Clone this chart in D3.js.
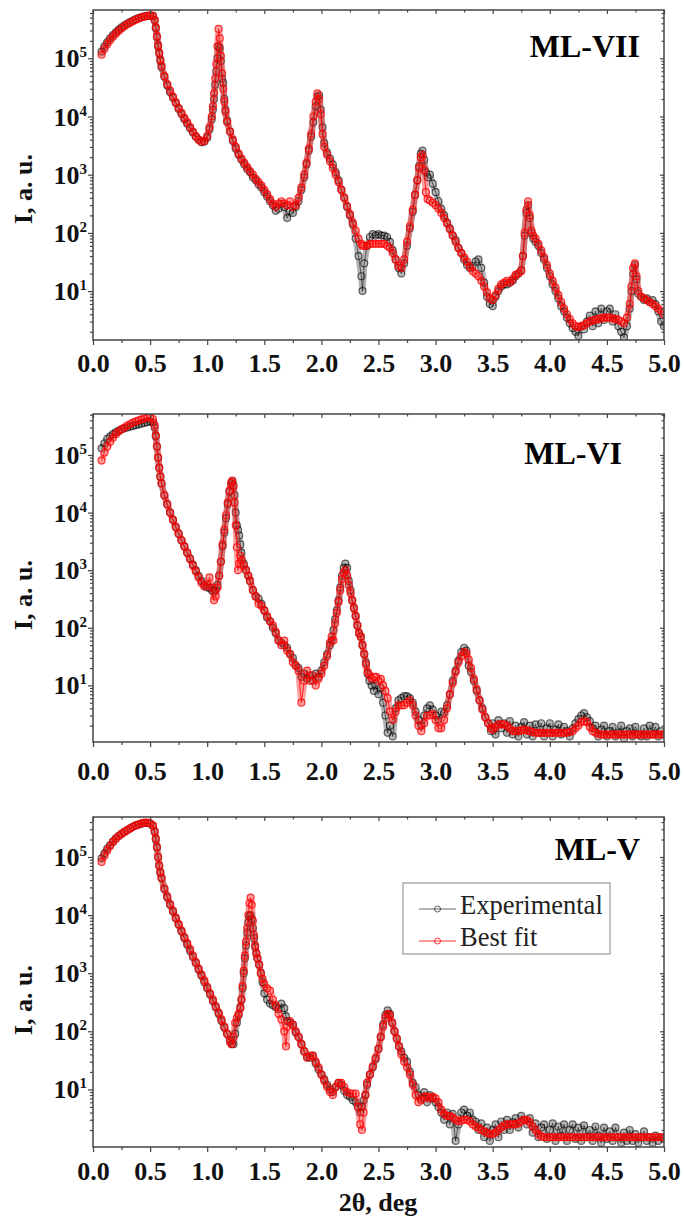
<!DOCTYPE html>
<html><head><meta charset="utf-8">
<script src="https://cdn.jsdelivr.net/npm/d3@7"></script>
<style>body{margin:0;background:#fff}svg{display:block}</style>
</head><body><svg id="c" width="684" height="1220"></svg>
<script>
// ---------- data ----------
const angleTickLabels = ["0.0","0.5","1.0","1.5","2.0","2.5","3.0","3.5","4.0","4.5","5.0"];
const angleTickValues = [0,0.5,1,1.5,2,2.5,3,3.5,4,4.5,5];
const angleMinorValues = [0.25,0.75,1.25,1.75,2.25,2.75,3.25,3.75,4.25,4.75];
const intensityTickExponents = [1,2,3,4,5];
const panelTitles = ["ML-VII","ML-VI","ML-V"];
const legendLabels = ["Experimental","Best fit"];
const axisTitleX = "2θ, deg";
const axisTitleY = "I, a. u.";

// rows: [2θ (deg), best fit, experimental]
const mlVII = [
[0.075,1.15e5,1.3e5],[0.1,1.45e5,1.6e5],[0.125,1.75e5,1.9e5],[0.15,2.05e5,2.2e5],[0.175,2.35e5,2.5e5],
[0.2,2.65e5,2.8e5],[0.225,2.95e5,3.1e5],[0.25,3.25e5,3.4e5],[0.275,3.55e5,3.7e5],[0.3,3.85e5,3.95e5],
[0.325,4.1e5,4.2e5],[0.35,4.35e5,4.45e5],[0.375,4.6e5,4.7e5],[0.4,4.85e5,4.9e5],[0.425,5.05e5,5.1e5],
[0.45,5.2e5,5.25e5],[0.475,5.35e5,5.35e5],[0.5,5.45e5,5.4e5],[0.525,5.4e5,5.3e5],[0.54,4.6e5,4.5e5],
[0.55,3.4e5,3.3e5],[0.56,2.4e5,2.3e5],[0.57,1.7e5,1.6e5],[0.58,1.25e5,1.2e5],[0.59,9.5e4,9e4],
[0.6,7.5e4,7e4],[0.625,5e4,4.8e4],[0.65,3.6e4,3.4e4],[0.675,2.8e4,2.6e4],[0.7,2.2e4,2.1e4],
[0.725,1.75e4,1.7e4],[0.75,1.4e4,1.35e4],[0.775,1.15e4,1.1e4],[0.8,9.5e3,9e3],[0.825,8e3,7.5e3],
[0.85,6.6e3,6.3e3],[0.875,5.5e3,5.3e3],[0.9,4.6e3,4.5e3],[0.925,4e3,4e3],[0.95,3.7e3,3.6e3],
[0.975,3.8e3,3.7e3],[1.0,4.6e3,4.3e3],[1.02,6.5e3,6e3],[1.04,1e4,9e3],[1.05,1.5e4,1.3e4],
[1.06,2.5e4,2e4],[1.07,4.5e4,3.5e4],[1.08,8e4,6e4],[1.09,1.6e5,1e5],[1.1,3.2e5,1.6e5],
[1.11,2.2e5,1.5e5],[1.12,1.1e5,9e4],[1.13,5.5e4,4.5e4],[1.14,3e4,3.8e4],[1.15,1.8e4,2e4],
[1.16,1.2e4,1.3e4],[1.175,8e3,8.5e3],[1.2,5.5e3,5.5e3],[1.225,4e3,3.8e3],[1.25,3e3,2.8e3],
[1.275,2.3e3,2.2e3],[1.3,1.9e3,1.8e3],[1.325,1.6e3,1.5e3],[1.35,1.35e3,1.25e3],[1.375,1.15e3,1.1e3],
[1.4,1e3,9e2],[1.425,8.5e2,8e2],[1.45,7.5e2,6.8e2],[1.475,6.5e2,6e2],[1.5,5.5e2,5e2],
[1.525,4.6e2,4.2e2],[1.55,3.8e2,3.5e2],[1.575,3.2e2,3e2],[1.6,2.8e2,2.4e2],[1.625,3.2e2,2.6e2],
[1.65,3.5e2,3.2e2],[1.675,3.2e2,2.8e2],[1.7,3e2,1.8e2],[1.725,3.5e2,2.4e2],[1.75,2.8e2,2.2e2],
[1.775,3e2,2.8e2],[1.8,4e2,3.5e2],[1.825,6e2,5.5e2],[1.85,1e3,9e2],[1.87,1.6e3,1.5e3],
[1.89,2.8e3,2.6e3],[1.91,5e3,4.5e3],[1.93,1e4,8e3],[1.95,1.8e4,1.5e4],[1.965,2.5e4,2.2e4],
[1.98,2e4,2.3e4],[1.995,1.1e4,1.3e4],[2.01,5e3,6.5e3],[2.025,3e3,3.5e3],[2.05,2.2e3,2.4e3],
[2.075,1.7e3,1.9e3],[2.1,1.3e3,1.5e3],[2.125,1e3,1.1e3],[2.15,7.5e2,8e2],[2.175,5.5e2,5.5e2],
[2.2,4e2,4e2],[2.225,2.9e2,2.8e2],[2.25,2.1e2,2e2],[2.275,1.5e2,1.4e2],[2.3,1.1e2,8e1],
[2.325,8e1,4e1],[2.35,6.5e1,1.8e1],[2.36,6e1,1e1],[2.375,6e1,3e1],[2.4,6e1,6e1],
[2.425,6.5e1,8.5e1],[2.45,6.5e1,9.5e1],[2.475,6.5e1,9e1],[2.5,6.5e1,9.5e1],[2.525,6.5e1,9e1],
[2.55,6.5e1,9e1],[2.575,6e1,8.5e1],[2.6,5.5e1,7e1],[2.625,4.5e1,5e1],[2.65,3.5e1,3.5e1],
[2.675,2.7e1,2.5e1],[2.7,2.5e1,2e1],[2.725,3.5e1,3e1],[2.75,7e1,6e1],[2.775,1.3e2,1.2e2],
[2.8,2.5e2,2.3e2],[2.82,4.5e2,4.5e2],[2.84,8e2,8e2],[2.855,1.3e3,1.4e3],[2.87,2e3,2.3e3],
[2.885,2.2e3,2.6e3],[2.9,1.2e3,1.8e3],[2.915,5e2,1.1e3],[2.93,3.8e2,9e2],[2.95,3.6e2,1e3],
[2.975,3.3e2,7e2],[3.0,3e2,5e2],[3.025,2.6e2,3.5e2],[3.05,2.2e2,2.6e2],[3.075,1.8e2,2e2],
[3.1,1.45e2,1.5e2],[3.125,1.15e2,1.2e2],[3.15,9e1,9e1],[3.175,7e1,7.5e1],[3.2,5.5e1,5.5e1],
[3.225,4.5e1,4.5e1],[3.25,3.8e1,3.5e1],[3.275,3.2e1,2.8e1],[3.3,2.6e1,2.5e1],[3.325,2.2e1,2.7e1],
[3.35,2e1,3.2e1],[3.375,1.8e1,3.5e1],[3.4,1.5e1,2.5e1],[3.425,1.2e1,1.4e1],[3.45,9.5,8],
[3.475,7.5,6],[3.5,7,5.5],[3.525,8.5,8],[3.55,11,10],[3.575,13,12],
[3.6,14,13],[3.625,15,13],[3.65,14,14],[3.675,16,15],[3.7,19,18],
[3.725,20,20],[3.75,22,23],[3.765,40,40],[3.78,1e2,9e1],[3.795,2.5e2,2.2e2],
[3.81,3.5e2,3e2],[3.825,2e2,1.8e2],[3.84,1.1e2,1e2],[3.855,9e1,8e1],[3.875,8e1,7e1],
[3.9,65,60],[3.925,50,45],[3.95,38,35],[3.975,28,25],[4.0,20,18],
[4.025,15,13],[4.05,11.5,10],[4.075,8.5,7.5],[4.1,6.5,5.5],[4.125,5,4.5],
[4.15,4,3.5],[4.175,3.3,2.8],[4.2,2.8,2.3],[4.225,2.5,2],[4.25,2.4,1.7],
[4.275,2.5,2.5],[4.3,2.6,2.2],[4.325,2.8,3],[4.35,3,3.8],[4.375,3.1,2.5],
[4.4,3.2,4.5],[4.425,3.3,2.8],[4.45,3.4,5],[4.475,3.5,3.2],[4.5,3.5,4.5],
[4.525,3.5,5],[4.55,3.4,3],[4.575,3.3,4],[4.6,3.2,2.5],[4.625,3,2],
[4.65,2.8,1.6],[4.675,3.5,2.5],[4.7,6,5],[4.715,12,10],[4.73,25,20],
[4.745,30,28],[4.76,18,16],[4.775,10,9],[4.8,8,8],[4.825,7.5,7],
[4.85,7,7.5],[4.875,6.5,6.5],[4.9,6,7],[4.925,5.5,6],[4.95,5,4.5],
[4.975,4.5,3],[5.0,4,2.5]
];

const mlVI = [
[0.075,8e4,1.3e5],[0.1,1.1e5,1.6e5],[0.125,1.4e5,1.9e5],[0.15,1.7e5,2.1e5],[0.175,2e5,2.3e5],
[0.2,2.3e5,2.5e5],[0.225,2.55e5,2.65e5],[0.25,2.8e5,2.8e5],[0.275,3e5,2.9e5],[0.3,3.25e5,3e5],
[0.325,3.45e5,3.1e5],[0.35,3.65e5,3.2e5],[0.375,3.85e5,3.3e5],[0.4,4e5,3.4e5],[0.425,4.15e5,3.5e5],
[0.45,4.3e5,3.6e5],[0.475,4.45e5,3.7e5],[0.5,4.5e5,3.8e5],[0.525,4.2e5,3.7e5],[0.54,3.3e5,3e5],
[0.55,2.2e5,2.1e5],[0.56,1.4e5,1.4e5],[0.57,9e4,9e4],[0.58,6e4,6e4],[0.59,4.2e4,4.2e4],
[0.6,3.2e4,3.2e4],[0.625,2e4,2e4],[0.65,1.4e4,1.4e4],[0.675,1e4,1e4],[0.7,7.5e3,7.5e3],
[0.725,5.6e3,5.6e3],[0.75,4.3e3,4.3e3],[0.775,3.3e3,3.3e3],[0.8,2.6e3,2.6e3],[0.825,2e3,2e3],
[0.85,1.55e3,1.6e3],[0.875,1.2e3,1.25e3],[0.9,9.5e2,1e3],[0.925,7.5e2,8e2],[0.95,6e2,6.5e2],
[0.975,5.2e2,5.5e2],[1.0,5.5e2,5e2],[1.02,7.5e2,5e2],[1.04,5e2,4.5e2],[1.06,3e2,4.2e2],
[1.075,3.5e2,4.5e2],[1.09,5e2,5.5e2],[1.105,8e2,8e2],[1.12,1.4e3,1.4e3],[1.135,2.8e3,2.6e3],
[1.15,5e3,4.5e3],[1.165,9e3,8e3],[1.18,1.5e4,1.4e4],[1.195,2.4e4,2.3e4],[1.21,3.3e4,3.2e4],
[1.22,3.6e4,3.5e4],[1.23,2.8e4,3e4],[1.24,1.5e4,2e4],[1.25,6e3,1e4],[1.26,2.5e3,6e3],
[1.27,1e3,5e3],[1.28,1.3e3,4e3],[1.29,1.8e3,2.8e3],[1.3,1.5e3,2e3],[1.32,1.2e3,1.3e3],
[1.34,1e3,1e3],[1.36,8e2,8e2],[1.375,6.5e2,6.5e2],[1.4,4.5e2,4.5e2],[1.425,3.5e2,3.5e2],
[1.45,2.6e2,3.2e2],[1.475,2.4e2,2.6e2],[1.5,2e2,2e2],[1.525,1.6e2,1.5e2],[1.55,1.3e2,1.3e2],
[1.575,1.1e2,1e2],[1.6,85,80],[1.625,60,60],[1.65,50,55],[1.675,60,50],
[1.7,40,45],[1.725,35,35],[1.75,25,30],[1.775,22,22],[1.8,18,20],
[1.825,5,14],[1.85,12,16],[1.875,18,13],[1.9,12,15],[1.925,15,12],
[1.95,10,16],[1.975,13,14],[2.0,16,18],[2.025,22,25],[2.05,32,35],
[2.075,55,50],[2.09,70,60],[2.105,60,90],[2.12,1.2e2,1.4e2],[2.135,1.8e2,2e2],
[2.15,2.8e2,3e2],[2.165,4.5e2,5e2],[2.18,7e2,8e2],[2.195,9e2,1.1e3],[2.21,1e3,1.3e3],
[2.225,8e2,1.1e3],[2.24,5.5e2,6.5e2],[2.255,4e2,4.5e2],[2.27,3e2,3e2],[2.285,2.2e2,2.2e2],
[2.3,1.6e2,1.6e2],[2.315,1.1e2,1.1e2],[2.33,80,80],[2.345,70,70],[2.36,50,50],
[2.375,35,35],[2.39,23,25],[2.405,17,16],[2.42,15,12],[2.44,13,10],
[2.46,14,8],[2.48,14,10],[2.5,12,7],[2.52,13,9],[2.54,10,5],
[2.56,8,3],[2.58,6,1.5],[2.6,3.5,2],[2.625,2.5,1.3],[2.65,3.5,4],
[2.675,4.5,5.5],[2.7,4.5,6],[2.725,4.5,6.5],[2.75,5,6.5],[2.775,5.5,6],
[2.8,4.5,5],[2.825,3,3.5],[2.85,2,2.5],[2.875,1.6,2],[2.9,2.2,3],
[2.925,3,4],[2.95,3,4.5],[2.975,3.2,3.8],[3.0,2.5,3],[3.025,1.8,2.5],
[3.05,1.8,3.5],[3.075,2.5,3.3],[3.1,4,4.5],[3.125,7,7],[3.15,11,12],
[3.175,17,18],[3.2,25,27],[3.225,32,38],[3.25,38,45],[3.27,36,40],
[3.29,28,22],[3.31,20,17],[3.335,13,12],[3.36,8.5,8],[3.385,5.5,5.5],
[3.41,3.8,4],[3.435,2.8,2.8],[3.46,2.2,2.2],[3.485,1.8,1.6],[3.5,1.7,2.2],
[3.525,1.9,1.4],[3.55,2.1,2.5],[3.575,2.1,1.8],[3.6,2.1,2.2],[3.625,2,1.5],
[3.65,1.8,2.4],[3.675,1.6,1.4],[3.7,1.6,2],[3.725,1.6,1.3],[3.75,1.65,1.9],
[3.775,1.7,2.3],[3.8,1.65,1.4],[3.825,1.6,2],[3.85,1.55,1.3],[3.875,1.5,2.1],
[3.9,1.5,1.5],[3.925,1.5,2.2],[3.95,1.5,1.3],[3.975,1.5,1.8],[4.0,1.5,2.2],
[4.025,1.5,1.3],[4.05,1.5,1.7],[4.075,1.5,2.1],[4.1,1.5,1.4],[4.125,1.5,1.9],
[4.15,1.5,1.6],[4.175,1.55,1.3],[4.2,1.6,1.8],[4.225,1.8,2.2],[4.25,2,2.6],
[4.275,2.3,3],[4.3,2.4,3.3],[4.325,2.3,2.8],[4.35,1.9,2.4],[4.375,1.6,1.8],
[4.4,1.5,2],[4.425,1.45,1.3],[4.45,1.4,1.7],[4.475,1.4,2],[4.5,1.4,1.3],
[4.525,1.4,1.6],[4.55,1.4,1.9],[4.575,1.4,1.3],[4.6,1.4,1.5],[4.625,1.4,2],
[4.65,1.4,1.2],[4.675,1.4,1.6],[4.7,1.4,1.8],[4.725,1.4,1.3],[4.75,1.4,1.9],
[4.775,1.4,1.4],[4.8,1.4,1.3],[4.825,1.4,1.8],[4.85,1.4,1.3],[4.875,1.4,2],
[4.9,1.4,1.4],[4.925,1.4,1.9],[4.95,1.4,1.3],[4.975,1.4,1.6],[5.0,1.4,1.4]
];

const mlV = [
[0.075,8.2e4,9.5e4],[0.1,1.05e5,1.15e5],[0.125,1.3e5,1.4e5],[0.15,1.55e5,1.6e5],[0.175,1.8e5,1.85e5],
[0.2,2.05e5,2.1e5],[0.225,2.3e5,2.3e5],[0.25,2.5e5,2.5e5],[0.275,2.7e5,2.7e5],[0.3,2.9e5,2.9e5],
[0.325,3.1e5,3.1e5],[0.35,3.3e5,3.3e5],[0.375,3.5e5,3.5e5],[0.4,3.65e5,3.6e5],[0.425,3.8e5,3.75e5],
[0.45,3.9e5,3.85e5],[0.475,3.9e5,3.85e5],[0.5,3.8e5,3.75e5],[0.525,3.5e5,3.4e5],[0.54,2.8e5,2.7e5],
[0.55,2.1e5,2e5],[0.56,1.5e5,1.45e5],[0.57,1e5,1e5],[0.58,7.2e4,7e4],[0.59,5.5e4,5.3e4],
[0.6,4.4e4,4.3e4],[0.625,2.9e4,2.8e4],[0.65,2.1e4,2e4],[0.675,1.55e4,1.5e4],[0.7,1.2e4,1.15e4],
[0.725,9e3,8.8e3],[0.75,7e3,6.8e3],[0.775,5.4e3,5.2e3],[0.8,4.2e3,4e3],[0.825,3.3e3,3.1e3],
[0.85,2.6e3,2.4e3],[0.875,2e3,1.9e3],[0.9,1.55e3,1.5e3],[0.925,1.2e3,1.15e3],[0.95,9.5e2,9e2],
[0.975,7.5e2,7e2],[1.0,5.8e2,5.5e2],[1.025,4.5e2,4.3e2],[1.05,3.5e2,3.3e2],[1.075,2.7e2,2.6e2],
[1.1,2.1e2,2e2],[1.125,1.6e2,1.5e2],[1.15,1.2e2,1.15e2],[1.175,90,90],[1.2,65,70],
[1.215,60,60],[1.23,80,60],[1.245,1.4e2,90],[1.26,1.7e2,1.4e2],[1.275,2e2,1.9e2],
[1.29,2.5e2,2.6e2],[1.3,3.5e2,3.5e2],[1.31,6e2,5.5e2],[1.32,1.1e3,1e3],[1.33,2e3,1.8e3],
[1.34,3.5e3,3e3],[1.35,6e3,5e3],[1.36,1e4,7.5e3],[1.37,1.6e4,9.5e3],[1.38,2e4,1e4],
[1.39,1.5e4,8.5e3],[1.4,8e3,6e3],[1.41,4.5e3,4e3],[1.42,3e3,2.8e3],[1.43,2.2e3,2.2e3],
[1.44,1.8e3,1.8e3],[1.455,1.4e3,1.4e3],[1.47,1e3,1e3],[1.485,8e2,7e2],[1.5,6.5e2,4.5e2],
[1.525,5.5e2,3.5e2],[1.55,5e2,3e2],[1.575,3.5e2,2.8e2],[1.6,2.8e2,2.6e2],[1.625,2e2,2.4e2],
[1.65,1.6e2,3e2],[1.675,1e2,2.5e2],[1.69,55,1.8e2],[1.7,1.2e2,1.5e2],[1.725,1.5e2,1.4e2],
[1.75,1.3e2,1.3e2],[1.775,1e2,95],[1.8,80,80],[1.825,60,60],[1.85,45,45],
[1.875,35,36],[1.9,38,35],[1.925,38,38],[1.95,30,28],[1.975,24,22],
[2.0,18,18],[2.025,14,15],[2.05,11,12],[2.075,9,10],[2.1,8,9],
[2.125,11,11],[2.15,13,13],[2.175,13,12],[2.2,11,9.5],[2.225,9,8],
[2.25,8.5,7.5],[2.275,8.5,6.5],[2.3,8.5,6],[2.32,5,5],[2.34,2.5,4],
[2.355,2,5],[2.37,4,6.5],[2.385,8,8],[2.4,13,12],[2.425,18,18],
[2.45,25,24],[2.475,35,33],[2.5,50,50],[2.52,80,80],[2.54,1.2e2,1.3e2],
[2.56,1.7e2,1.9e2],[2.58,2e2,2.3e2],[2.6,1.9e2,2e2],[2.62,1.4e2,1.4e2],[2.64,1e2,1e2],
[2.66,75,75],[2.68,55,55],[2.7,40,45],[2.725,30,35],[2.75,24,30],
[2.775,18,20],[2.8,12,13],[2.825,8,11],[2.85,6,8],[2.875,6.5,7],
[2.9,7.5,9],[2.925,7.5,6],[2.95,7,8],[2.975,7.5,7],[3.0,7,6],
[3.025,6,5],[3.05,4.5,4],[3.075,3.8,3],[3.1,3.5,4],[3.125,3.5,2.5],
[3.15,3.3,3.8],[3.175,3,1.3],[3.2,2.8,2.5],[3.225,2.9,4],[3.25,3,4.5],
[3.275,3,3.5],[3.3,2.8,4],[3.325,2.5,3],[3.35,2.3,2.8],[3.375,2.2,2],
[3.4,2,2.6],[3.425,1.9,1.5],[3.45,1.8,2.2],[3.475,1.7,1.3],[3.5,1.7,2],
[3.525,1.8,2.5],[3.55,2,1.5],[3.575,2.2,2.8],[3.6,2.4,2],[3.625,2.5,3],
[3.65,2.5,2],[3.675,2.5,2.7],[3.7,2.5,3.2],[3.725,2.6,2.2],[3.75,2.8,3.5],
[3.775,3,3],[3.8,3,2.5],[3.825,2.7,3.2],[3.85,2.3,1.8],[3.875,2,2.6],
[3.9,1.7,1.5],[3.925,1.55,2.2],[3.95,1.5,2.5],[3.975,1.5,1.4],[4.0,1.5,2],
[4.025,1.5,2.6],[4.05,1.5,1.3],[4.075,1.5,2.3],[4.1,1.5,1.6],[4.125,1.5,2.5],
[4.15,1.5,1.3],[4.175,1.5,2],[4.2,1.5,2.5],[4.225,1.5,1.4],[4.25,1.5,2.2],
[4.275,1.5,1.3],[4.3,1.5,2.4],[4.325,1.5,1.5],[4.35,1.5,2],[4.375,1.5,1.3],
[4.4,1.5,2.3],[4.425,1.5,1.6],[4.45,1.5,1.2],[4.475,1.5,2.2],[4.5,1.5,1.4],
[4.525,1.5,1.9],[4.55,1.5,1.3],[4.575,1.5,2.2],[4.6,1.5,1.5],[4.625,1.5,1.2],
[4.65,1.5,1.8],[4.675,1.5,1.3],[4.7,1.5,2],[4.725,1.5,1.3],[4.75,1.5,1.7],
[4.775,1.5,1.2],[4.8,1.5,1.5],[4.825,1.5,1.9],[4.85,1.5,1.3],[4.875,1.5,1.5],
[4.9,1.5,1.2],[4.925,1.5,1.6],[4.95,1.5,1.3],[4.975,1.5,1.5],[5.0,1.5,1.4]
];

// ---------- layout ----------
const FONT = "'Liberation Serif','Times New Roman',Times,serif";
const plotLeft = 93, plotRight = 664;
const panels = [
  {title: panelTitles[0], data: mlVII, top: 10,  bottom: 340,  yDomain: [1.445, 6.76e5], titleX: 640, titleY: 57,  labelGap: 32, yTitleY: 189, legend: false},
  {title: panelTitles[1], data: mlVI,  top: 414, bottom: 742,  yDomain: [1.04, 5.15e5],  titleX: 622, titleY: 464, labelGap: 38, yTitleY: 595, legend: false},
  {title: panelTitles[2], data: mlV,   top: 817, bottom: 1147, yDomain: [1.02, 4.88e5],  titleX: 640, titleY: 860, labelGap: 33, yTitleY: 1000, legend: true}
];
const colExp = "rgba(0,0,0,0.6)";
const colFit = "rgba(255,0,0,0.8)";
const ribbonExp = "rgba(40,40,40,0.35)";
const ribbonFit = "rgba(255,20,20,0.42)";

const svg = d3.select("#c");
const defs = svg.append("defs");
defs.append("filter").attr("id", "soft").append("feGaussianBlur").attr("stdDeviation", 0.45);
const x = d3.scaleLinear().domain([0, 5]).range([plotLeft, plotRight]);

panels.forEach((p, i) => {
  const y = d3.scaleLog().domain(p.yDomain).range([p.bottom, p.top]);
  const g = svg.append("g");

  const clipId = "clip" + i;
  defs.append("clipPath").attr("id", clipId).append("rect")
    .attr("x", plotLeft).attr("y", p.top).attr("width", plotRight - plotLeft).attr("height", p.bottom - p.top);
  const dg = g.append("g").attr("clip-path", `url(#${clipId})`).append("g").attr("filter", "url(#soft)");

  const series = [{k: 2, c: colExp, r: ribbonExp}, {k: 1, c: colFit, r: ribbonFit}];
  series.forEach(s => {
    const line = d3.line().x(d => x(d[0])).y(d => y(d[s.k]));
    dg.append("path").datum(p.data).attr("d", line)
      .attr("fill", "none").attr("stroke", s.r).attr("stroke-width", 6.5)
      .attr("stroke-linejoin", "round").attr("stroke-linecap", "round");
    dg.append("path").datum(p.data).attr("d", line)
      .attr("fill", "none").attr("stroke", s.c).attr("stroke-width", 0.9);
    dg.append("g").selectAll("circle").data(p.data).join("circle")
      .attr("cx", d => x(d[0])).attr("cy", d => y(d[s.k])).attr("r", 3.5)
      .attr("fill", "none").attr("stroke", s.c).attr("stroke-width", 1.2);
  });

  // minor log ticks
  const yMinor = [];
  for (let e = 0; e <= 5; e++) for (let m = 2; m <= 9; m++) {
    const v = m * Math.pow(10, e);
    if (v > p.yDomain[0] && v < p.yDomain[1]) yMinor.push(v);
  }
  const yMajor = intensityTickExponents.map(e => Math.pow(10, e));

  const styleAxis = sel => {
    sel.select(".domain").remove();
    sel.selectAll("line").attr("stroke", "#444").attr("stroke-width", 1.2);
  };

  // bottom
  g.append("g").attr("transform", `translate(0,${p.bottom})`)
    .call(d3.axisBottom(x).tickValues(angleMinorValues).tickSize(3).tickFormat("")).call(styleAxis);
  const bx = g.append("g").attr("transform", `translate(0,${p.bottom})`)
    .call(d3.axisBottom(x).tickValues(angleTickValues).tickSize(5).tickPadding(p.labelGap - 5 - 18.5)
      .tickFormat((d, j) => angleTickLabels[j])).call(styleAxis);
  bx.attr("font-family", FONT);
  bx.selectAll("text").attr("font-family", FONT).attr("font-size", 26).attr("font-weight", "bold").attr("fill", "#111");
  // top (inward)
  g.append("g").attr("transform", `translate(0,${p.top})`)
    .call(d3.axisTop(x).tickValues(angleMinorValues).tickSize(-2.5).tickFormat("")).call(styleAxis);
  g.append("g").attr("transform", `translate(0,${p.top})`)
    .call(d3.axisTop(x).tickValues(angleTickValues).tickSize(-4).tickFormat("")).call(styleAxis);
  // left
  g.append("g").attr("transform", `translate(${plotLeft},0)`)
    .call(d3.axisLeft(y).tickValues(yMinor).tickSize(3).tickFormat("")).call(styleAxis);
  g.append("g").attr("transform", `translate(${plotLeft},0)`)
    .call(d3.axisLeft(y).tickValues(yMajor).tickSize(5).tickFormat("")).call(styleAxis);
  // right (inward)
  g.append("g").attr("transform", `translate(${plotRight},0)`)
    .call(d3.axisRight(y).tickValues(yMinor).tickSize(-2.5).tickFormat("")).call(styleAxis);
  g.append("g").attr("transform", `translate(${plotRight},0)`)
    .call(d3.axisRight(y).tickValues(yMajor).tickSize(-4).tickFormat("")).call(styleAxis);

  // y tick labels 10^n
  const yl = g.append("g").selectAll("text").data(intensityTickExponents).join("text")
    .attr("x", plotLeft - 6).attr("y", e => y(Math.pow(10, e)) + 9)
    .attr("text-anchor", "end").attr("font-family", FONT).attr("font-weight", "bold").attr("fill", "#111");
  yl.append("tspan").attr("font-size", 26).text("10");
  yl.append("tspan").attr("font-size", 15).attr("dy", -10).text(e => e);

  // frame
  g.append("rect").attr("x", plotLeft).attr("y", p.top)
    .attr("width", plotRight - plotLeft).attr("height", p.bottom - p.top)
    .attr("fill", "none").attr("stroke", "#444").attr("stroke-width", 1.5);

  // panel title
  g.append("text").attr("x", p.titleX).attr("y", p.titleY).attr("text-anchor", "end")
    .attr("font-family", FONT).attr("font-weight", "bold").attr("font-size", 32).attr("fill", "#000").text(p.title);

  // y axis title
  g.append("text").attr("transform", `translate(32,${p.yTitleY}) rotate(-90)`).attr("text-anchor", "middle")
    .attr("font-family", FONT).attr("font-weight", "bold").attr("font-size", 26).attr("fill", "#111").text(axisTitleY);

  if (p.legend) {
    const lg = g.append("g");
    lg.append("rect").attr("x", 403).attr("y", 883).attr("width", 207).attr("height", 71)
      .attr("fill", "#fff").attr("stroke", "#999").attr("stroke-width", 1.2);
    [colExp, colFit].forEach((c, j) => {
      const ly = 909 + j * 32;
      lg.append("line").attr("x1", 419).attr("x2", 456).attr("y1", ly).attr("y2", ly).attr("stroke", c).attr("stroke-width", 1);
      lg.append("circle").attr("cx", 437.5).attr("cy", ly).attr("r", 3).attr("fill", "none").attr("stroke", c).attr("stroke-width", 1);
      lg.append("text").attr("x", 460).attr("y", ly + 5)
        .attr("font-family", FONT).attr("font-size", 26.5).attr("fill", "#222").text(legendLabels[j]);
    });
  }
});

// x axis title
svg.append("text").attr("x", 378).attr("y", 1211).attr("text-anchor", "middle")
  .attr("font-family", FONT).attr("font-weight", "bold").attr("font-size", 26).attr("fill", "#111").text(axisTitleX);
</script>
</body></html>
